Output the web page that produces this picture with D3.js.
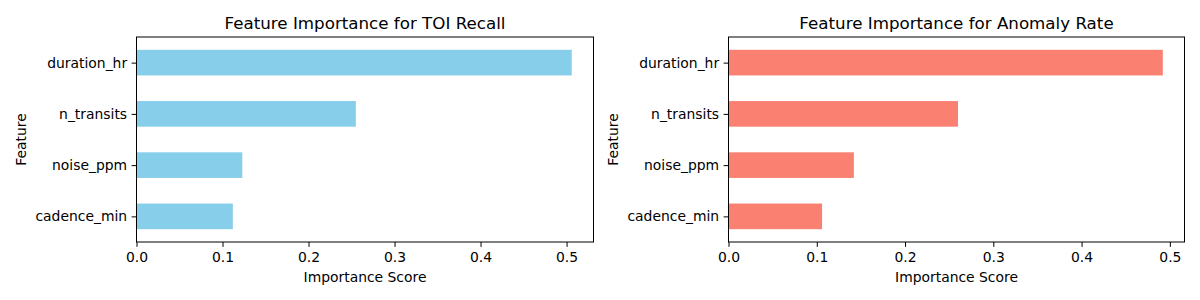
<!DOCTYPE html>
<html>
<head>
<meta charset="utf-8">
<script src="https://cdn.jsdelivr.net/npm/d3@7"></script>
<style>
  body { margin: 0; background: #fff; }
  svg text { font-family: "DejaVu Sans", sans-serif; fill: #000; }
</style>
</head>
<body>
<div id="chart"></div>
<script>
// feature names, bottom to top (as drawn)
var features = ['cadence_min', 'noise_ppm', 'n_transits', 'duration_hr'];

// importance values
var recallScores = [0.112, 0.123, 0.255, 0.506];
var anomalyScores = [0.106, 0.142, 0.260, 0.492];

var xTicks = [0, 0.1, 0.2, 0.3, 0.4, 0.5];

var svgWidth = 1200;
var svgHeight = 300;

const svg = d3.select('#chart')
    .append('svg')
    .attr('width', svgWidth)
    .attr('height', svgHeight);

//Draw one panel
function drawPanel(left, right, title, scores, color) {
    var top = 37, bottom = 242;
    var maxVal = d3.max(scores) * 1.05;

    var xScale = d3.scaleLinear().domain([0, maxVal]).range([left, right]);
    var yScale = d3.scaleLinear().domain([-0.5, 3.5]).range([bottom, top]);

    var g = svg.append('g');

    //bars
    g.selectAll('rect.bar')
        .data(scores)
        .enter()
        .append('rect')
        .attr('class', 'bar')
        .attr('x', xScale(0))
        .attr('y', (d, i) => yScale(i + 0.25))
        .attr('width', d => xScale(d) - xScale(0))
        .attr('height', (d, i) => yScale(i - 0.25) - yScale(i + 0.25))
        .attr('fill', color);

    //x axis
    var xAxis = d3.axisBottom(xScale)
        .tickValues(xTicks)
        .tickFormat(d3.format('.1f'))
        .tickSize(4.9)
        .tickPadding(4.5)
        .tickSizeOuter(0);
    var xg = g.append('g')
        .attr('transform', `translate(0, ${bottom})`)
        .call(xAxis);
    xg.select('.domain').remove();
    xg.selectAll('text').style('font-size', '13.9px').attr('dy', '0.75em');
    xg.selectAll('line').attr('stroke', '#000').attr('stroke-width', 1);

    //y axis
    var yAxis = d3.axisLeft(yScale)
        .tickValues(d3.range(features.length))
        .tickFormat(i => features[i])
        .tickSize(4.9)
        .tickPadding(4.5)
        .tickSizeOuter(0);
    var yg = g.append('g')
        .attr('transform', `translate(${left}, 0)`)
        .call(yAxis);
    yg.select('.domain').remove();
    yg.selectAll('text').style('font-size', '13.9px');
    yg.selectAll('line').attr('stroke', '#000').attr('stroke-width', 1);

    //frame
    g.append('rect')
        .attr('x', left)
        .attr('y', top)
        .attr('width', right - left)
        .attr('height', bottom - top)
        .attr('fill', 'none')
        .attr('stroke', '#000')
        .attr('stroke-width', 1);

    //title
    g.append('text')
        .attr('x', (left + right) / 2)
        .attr('y', top - 8)
        .attr('text-anchor', 'middle')
        .style('font-size', '16.7px')
        .text(title);

    //x label
    g.append('text')
        .attr('x', (left + right) / 2)
        .attr('y', 282)
        .attr('text-anchor', 'middle')
        .style('font-size', '13.9px')
        .text('Importance Score');

    //y label
    var labelX = left - 111;
    g.append('text')
        .attr('transform', `translate(${labelX}, ${(top + bottom) / 2}) rotate(-90)`)
        .attr('text-anchor', 'middle')
        .style('font-size', '13.9px')
        .text('Feature');
}

drawPanel(136.5, 593.5, 'Feature Importance for TOI Recall', recallScores, 'skyblue');
drawPanel(728.5, 1184.5, 'Feature Importance for Anomaly Rate', anomalyScores, 'salmon');
</script>
</body>
</html>
